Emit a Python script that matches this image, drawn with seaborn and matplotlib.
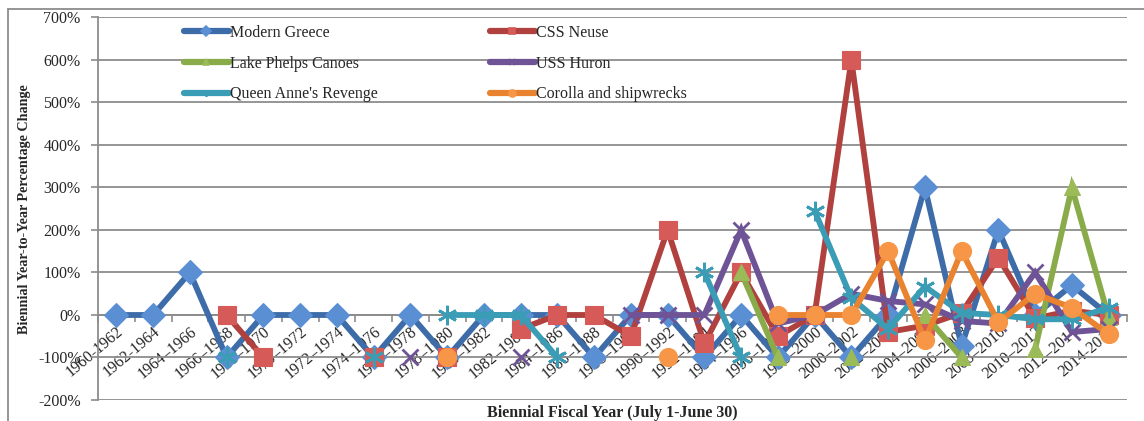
import numpy as np
import pandas as pd
import matplotlib
matplotlib.use("Agg")
import matplotlib.pyplot as plt
import seaborn as sns
from matplotlib.lines import Line2D
from matplotlib.patches import Rectangle

N = np.nan

periods = ["1960-1962", "1962-1964", "1964–1966", "1966–1968", "1968–1970", "1970–1972",
           "1972–1974", "1974–1976", "1976–1978", "1978–1980", "1980–1982", "1982–1984",
           "1984–1986", "1986–1988", "1988–1990", "1990–1992", "1992–1994", "1994–1996",
           "1996–1998", "1998–2000", "2000–2002", "2002–2004", "2004–2006", "2006–2008",
           "2008–2010", "2010–2012", "2012–2014", "2014-2016"]

modern_greece = [0, 0, 100, -100, 0, 0, 0, -100, 0, -100, 0, 0, 0, -100, 0, 0, -100, 0,
                 -100, 0, -100, 0, 300, -73, 200, 0, 70, 0]
css_neuse = [N, N, N, 0, -100, N, N, -100, N, -100, N, -33, 0, 0, -50, 200, -67, 100,
             -50, 0, 600, -40, -25, 5, 135, -8, 10, 0]
lake_phelps = [N, N, N, N, N, N, N, N, N, N, N, N, N, N, N, N, N, 100,
               -100, N, -100, N, 0, -100, N, -80, 300, -5]
uss_huron = [N, N, N, N, N, N, N, N, -100, N, N, -100, N, N, 0, 0, 0, 200,
             -20, 0, 50, 33, 25, -14, -20, 100, -40, -33]
queen_annes = [N, N, N, -100, N, N, N, -100, N, 0, 0, 0, -100, N, N, N, 100, -100,
               N, 245, 40, -33, 67, 5, 0, -10, -10, 17]
corolla = [N, N, N, N, N, N, N, N, N, -100, N, N, N, N, N, -100, N, N,
           0, 0, 0, 150, -60, 150, -17, 50, 17, -45]

series_names = ["Modern Greece", "CSS Neuse", "Lake Phelps Canoes", "USS Huron",
                "Queen Anne's Revenge", "Corolla and shipwrecks"]
series_values = [modern_greece, css_neuse, lake_phelps, uss_huron, queen_annes, corolla]

yticks = [-200, -100, 0, 100, 200, 300, 400, 500, 600, 700]
ytick_labels = ["-200%", "-100%", "0%", "100%", "200%", "300%", "400%", "500%", "600%", "700%"]

line_colors = ["#3d6ca8", "#b0413e", "#8aab4a", "#6e5496", "#3a9db5", "#e9832f"]
face_colors = ["#5b8fd3", "#d65b58", "#9bbb59", "#8064a2", "#4bacc6", "#f79646"]
markers = ["D", "s", "^", "x", (6, 2, 0), "o"]
msizes = [12, 13, 12, 12, 14, 13]

# long-form data with contiguous segments as units
rows = []
for name, vals in zip(series_names, series_values):
    seg = 0
    prev = False
    for i, v in enumerate(vals):
        if np.isnan(v):
            if prev:
                seg += 1
            prev = False
            continue
        rows.append({"series": name, "idx": i, "value": v, "seg": seg})
        prev = True
df = pd.DataFrame(rows)

sns.set_style("white")
plt.rcParams["font.family"] = ["Liberation Serif", "DejaVu Serif"]

W, H = 1144, 421
fig = plt.figure(figsize=(W / 100, H / 100), dpi=100)
ax = fig.add_axes([98 / W, 1 - 400 / H, (1127 - 98) / W, (400 - 17.5) / H])

for k, name in enumerate(series_names):
    d = df[df["series"] == name]
    filled = markers[k] not in ("x",) and not isinstance(markers[k], tuple)
    sns.lineplot(data=d, x="idx", y="value", units="seg", estimator=None, sort=False,
                 ax=ax, legend=False, color=line_colors[k], lw=4.2,
                 marker=markers[k], markersize=msizes[k],
                 markerfacecolor=face_colors[k] if filled else "none",
                 markeredgecolor=(face_colors[k] if filled else line_colors[k]),
                 markeredgewidth=(0.8 if filled else 2.0),
                 solid_joinstyle="miter", zorder=3 + k)

ax.set_xlim(-0.5, len(periods) - 0.5)
ax.set_ylim(-200, 700)
ax.set_yticks(yticks)
ax.set_yticklabels(ytick_labels, fontsize=11.5)
ax.yaxis.grid(True, color="#8c8c8c", lw=1.3)
ax.set_axisbelow(True)
ax.set_xlabel("")
ax.set_ylabel("")

for s in ["top", "right"]:
    ax.spines[s].set_visible(False)
ax.spines["left"].set_color("#8c8c8c")
ax.spines["left"].set_linewidth(1.3)
ax.spines["bottom"].set_position(("data", 0))
ax.spines["bottom"].set_color("#8c8c8c")
ax.spines["bottom"].set_linewidth(1.3)

ax.tick_params(axis="y", length=5, color="#8c8c8c", width=1.2, pad=7.5, left=True)
ax.set_xticks(range(len(periods)))
ax.set_xticklabels(periods, rotation=40, ha="right", va="top",
                   rotation_mode="anchor", fontsize=11.5)
ax.tick_params(axis="x", which="major", length=0, pad=6, bottom=True)
ax.set_xticks(np.arange(-0.5, len(periods), 1), minor=True)
ax.tick_params(axis="x", which="minor", length=5, color="#8c8c8c", width=1.2, bottom=True)

# legend
handles = []
for k in range(6):
    filled = markers[k] not in ("x",) and not isinstance(markers[k], tuple)
    handles.append(Line2D([], [], color=line_colors[k], lw=4.5, marker=markers[k], ms=5,
                          mfc=face_colors[k] if filled else "none",
                          mec=face_colors[k] if filled else line_colors[k], mew=1.2))
order = [0, 2, 4, 1, 3, 5]
fig.legend([handles[i] for i in order], [series_names[i] for i in order],
           ncol=2, loc="upper left", bbox_to_anchor=(184 / W, 1 - 25 / H),
           frameon=False, fontsize=11.5, handlelength=2.8, handletextpad=0.1,
           labelspacing=0.92, columnspacing=7.0, borderpad=0, borderaxespad=0)

fig.text(612 / W, 8 / H, "Biennial Fiscal Year (July 1-June 30)", ha="center", va="center",
         fontsize=11.5, fontweight="bold")
fig.text(25 / W, 1 - 209 / H, "Biennial Year-to-Year Percentage Change", ha="center",
         va="center", rotation=90, fontsize=10.2, fontweight="bold")

fig.patches.append(Rectangle((8 / W, -0.1), 1.2, 1 - 9 / H + 0.1, transform=fig.transFigure,
                             fill=False, edgecolor="#8c8c8c", lw=1.3, zorder=0))

fig.savefig("out.png", dpi=100)
